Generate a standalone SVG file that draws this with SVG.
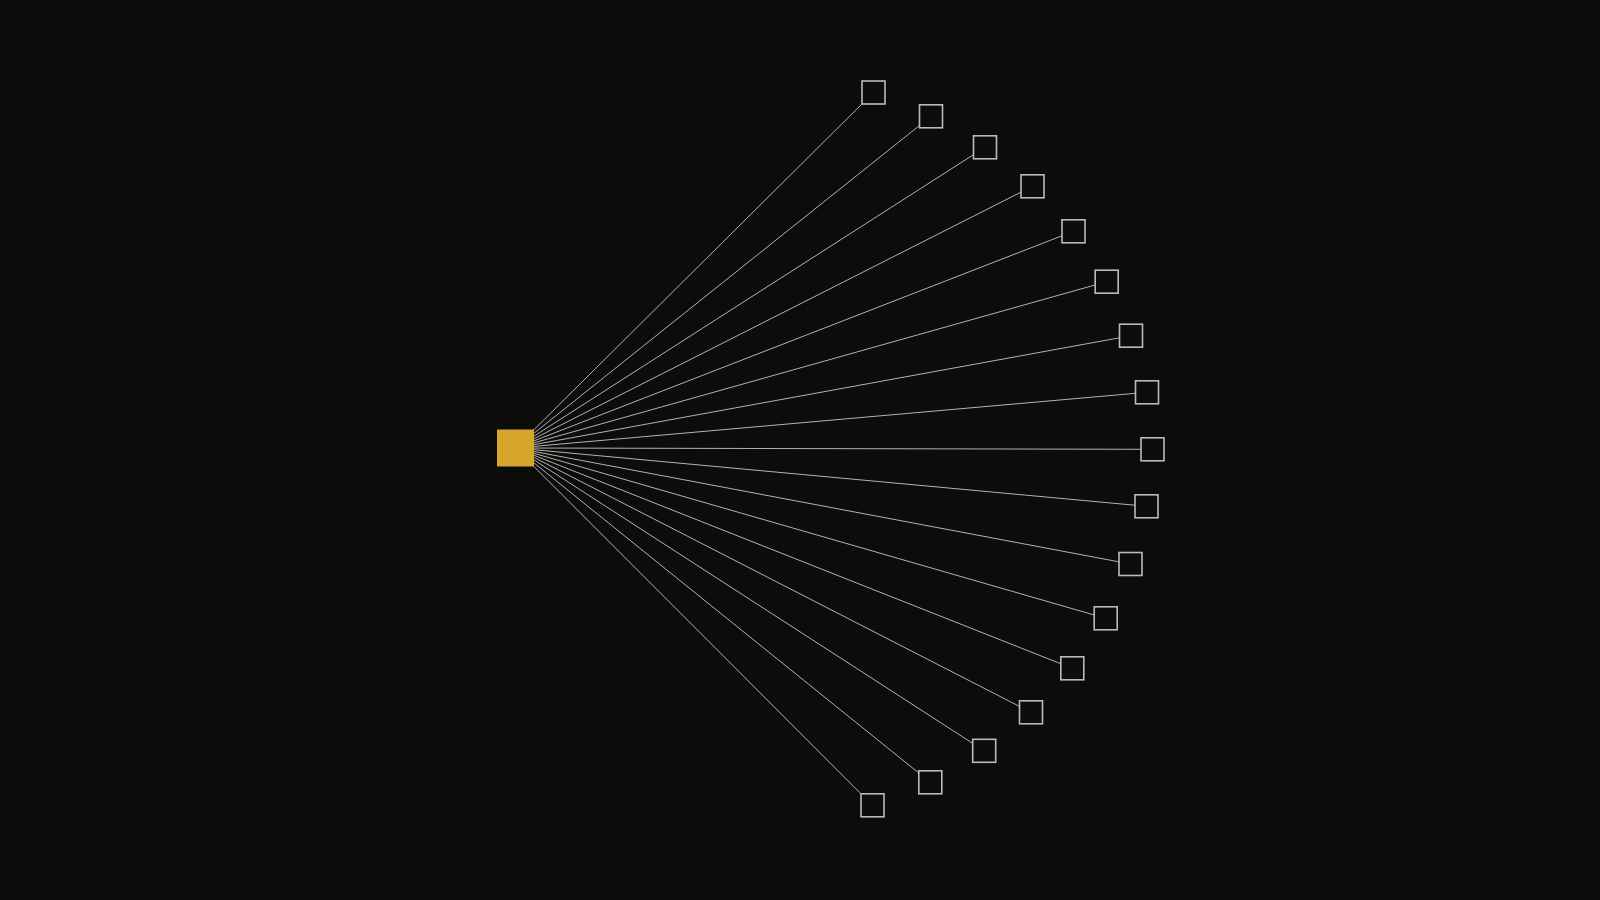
<svg xmlns="http://www.w3.org/2000/svg" width="1600" height="900" viewBox="0 0 1600 900">
<style>
.bg{fill:#0d0c0b}
.edge{stroke:#b4b2ae;stroke-width:1;fill:none}
.leaf{fill:#0e0d0c;stroke:#bdbbb7;stroke-width:1.6}
.hub{fill:#d6a62c}
</style>
<rect class="bg" x="0" y="0" width="1600" height="900"/>
<g id="connectors">
<line class="edge" x1="515.5" y1="448" x2="873.5" y2="92.5"/>
<line class="edge" x1="515.5" y1="448" x2="931" y2="116.3"/>
<line class="edge" x1="515.5" y1="448" x2="985" y2="147.3"/>
<line class="edge" x1="515.5" y1="448" x2="1032.5" y2="186.3"/>
<line class="edge" x1="515.5" y1="448" x2="1073.5" y2="231.3"/>
<line class="edge" x1="515.5" y1="448" x2="1106.7" y2="281.7"/>
<line class="edge" x1="515.5" y1="448" x2="1131" y2="335.7"/>
<line class="edge" x1="515.5" y1="448" x2="1147" y2="392.3"/>
<line class="edge" x1="515.5" y1="448" x2="1152.5" y2="449.3"/>
<line class="edge" x1="515.5" y1="448" x2="1146.5" y2="506.3"/>
<line class="edge" x1="515.5" y1="448" x2="1130.5" y2="564"/>
<line class="edge" x1="515.5" y1="448" x2="1105.7" y2="618.3"/>
<line class="edge" x1="515.5" y1="448" x2="1072.3" y2="668.3"/>
<line class="edge" x1="515.5" y1="448" x2="1031" y2="712.3"/>
<line class="edge" x1="515.5" y1="448" x2="984.2" y2="750.8"/>
<line class="edge" x1="515.5" y1="448" x2="930.3" y2="782.3"/>
<line class="edge" x1="515.5" y1="448" x2="872.5" y2="805.3"/>
</g>
<g id="hub"><rect class="hub" x="497" y="429.5" width="37" height="37"/></g>
<g id="n1"><rect class="leaf" x="862" y="81" width="23" height="23"/></g>
<g id="n2"><rect class="leaf" x="919.5" y="104.8" width="23" height="23"/></g>
<g id="n3"><rect class="leaf" x="973.5" y="135.8" width="23" height="23"/></g>
<g id="n4"><rect class="leaf" x="1021" y="174.8" width="23" height="23"/></g>
<g id="n5"><rect class="leaf" x="1062" y="219.8" width="23" height="23"/></g>
<g id="n6"><rect class="leaf" x="1095.2" y="270.2" width="23" height="23"/></g>
<g id="n7"><rect class="leaf" x="1119.5" y="324.2" width="23" height="23"/></g>
<g id="n8"><rect class="leaf" x="1135.5" y="380.8" width="23" height="23"/></g>
<g id="n9"><rect class="leaf" x="1141" y="437.8" width="23" height="23"/></g>
<g id="n10"><rect class="leaf" x="1135" y="494.8" width="23" height="23"/></g>
<g id="n11"><rect class="leaf" x="1119" y="552.5" width="23" height="23"/></g>
<g id="n12"><rect class="leaf" x="1094.2" y="606.8" width="23" height="23"/></g>
<g id="n13"><rect class="leaf" x="1060.8" y="656.8" width="23" height="23"/></g>
<g id="n14"><rect class="leaf" x="1019.5" y="700.8" width="23" height="23"/></g>
<g id="n15"><rect class="leaf" x="972.7" y="739.3" width="23" height="23"/></g>
<g id="n16"><rect class="leaf" x="918.8" y="770.8" width="23" height="23"/></g>
<g id="n17"><rect class="leaf" x="861" y="793.8" width="23" height="23"/></g>
</svg>
